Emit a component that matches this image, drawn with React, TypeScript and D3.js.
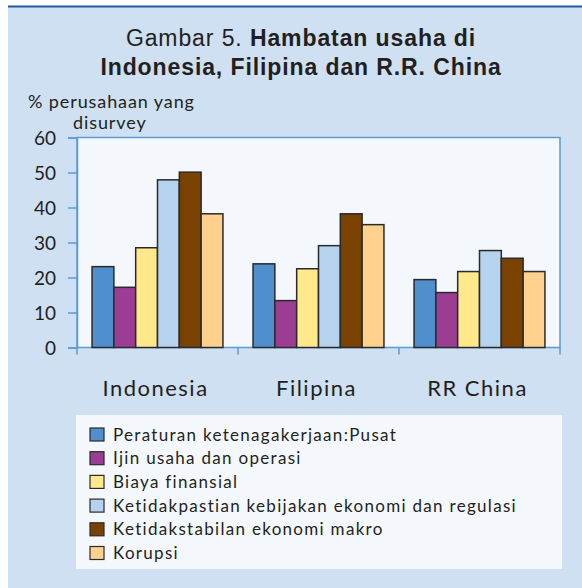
import { useRef, useEffect } from "react";
import * as d3 from "d3";

const countries = ["Indonesia", "Filipina", "RR China"];
const seriesNames = [
  "Peraturan ketenagakerjaan:Pusat",
  "Ijin usaha dan operasi",
  "Biaya finansial",
  "Ketidakpastian kebijakan ekonomi dan regulasi",
  "Ketidakstabilan ekonomi makro",
  "Korupsi",
];
const seriesColors = ["#4f8fcd", "#9b3d93", "#ffe98a", "#b5d2ee", "#7a4200", "#ffd18c"];
// values per series, in country order
const peraturan = [23.1, 23.9, 19.4];
const ijin = [17.2, 13.4, 15.7];
const biaya = [28.5, 22.5, 21.7];
const ketidakpastian = [47.9, 29.1, 27.7];
const ketidakstabilan = [50.1, 38.2, 25.5];
const korupsi = [38.2, 35.1, 21.7];
const seriesValues = [peraturan, ijin, biaya, ketidakpastian, ketidakstabilan, korupsi];
const yTicks = [0, 10, 20, 30, 40, 50, 60];

const labelFont = "Lato, 'Open Sans', sans-serif";
const titleFont = "'Liberation Sans', Arial, sans-serif";

export default function App() {
  const svgRef = useRef<SVGSVGElement>(null);
  const width = 582;
  const height = 588;

  useEffect(() => {
    if (!svgRef.current) return;
    const svg = d3.select(svgRef.current);
    svg.selectAll("*").remove();

    const ink = "#231f20";
    const axisBlue = "#5b9bd5";

    // panel background
    svg.append("rect").attr("width", width).attr("height", height).attr("fill", "#fff");
    svg.append("rect").attr("x", 8).attr("y", 7).attr("width", width - 8).attr("height", height - 7).attr("fill", "#cfe0f2");
    svg.append("line").attr("x1", 8).attr("x2", width).attr("y1", 6.5).attr("y2", 6.5).attr("stroke", "#1f5aa0").attr("stroke-width", 2);

    // title
    const t1 = svg.append("text").attr("x", 301).attr("y", 46).attr("text-anchor", "middle")
      .attr("font-family", titleFont).attr("font-size", 23).attr("letter-spacing", 0.9).attr("fill", ink);
    t1.append("tspan").text("Gambar 5. ");
    t1.append("tspan").attr("font-weight", "bold").text("Hambatan usaha di");
    svg.append("text").attr("x", 301).attr("y", 75).attr("text-anchor", "middle")
      .attr("font-family", titleFont).attr("font-size", 23).attr("letter-spacing", 0.9)
      .attr("font-weight", "bold").attr("fill", ink)
      .text("Indonesia, Filipina dan R.R. China");

    const margin = { top: 137.5, left: 77, right: 560, bottom: 347.5 };

    const x = d3.scaleBand<string>().domain(countries).range([margin.left, margin.right]);
    const xInner = d3.scaleBand<number>().domain(d3.range(seriesNames.length))
      .range([0, x.bandwidth()]).paddingInner(0).paddingOuter(0.69);
    const y = d3.scaleLinear().domain([0, 60]).range([margin.bottom, margin.top]);

    // plot area
    svg.append("rect").attr("x", margin.left).attr("y", margin.top)
      .attr("width", margin.right - margin.left).attr("height", margin.bottom - margin.top)
      .attr("fill", "#f4f8fd").attr("stroke", axisBlue).attr("stroke-width", 1.5);

    // y axis
    const yAxis = svg.append("g").attr("transform", `translate(${margin.left},0)`)
      .call(d3.axisLeft(y).tickValues(yTicks).tickSize(9).tickPadding(12));
    yAxis.select(".domain").attr("stroke", axisBlue).attr("stroke-width", 1.5);
    yAxis.selectAll(".tick line").attr("stroke", axisBlue).attr("stroke-width", 1.5);
    yAxis.selectAll(".tick text").attr("fill", ink).attr("font-family", labelFont)
      .attr("font-size", 19).attr("dy", "0.36em");

    // x axis: ticks at category boundaries
    const bounds = [...countries.map((c) => x(c) as number), margin.right];
    svg.append("g").selectAll("line").data(bounds).enter().append("line")
      .attr("x1", (d) => d).attr("x2", (d) => d)
      .attr("y1", margin.bottom).attr("y2", margin.bottom + 7)
      .attr("stroke", axisBlue).attr("stroke-width", 1.5);
    svg.append("g").selectAll("text").data(countries).enter().append("text")
      .attr("x", (d) => (x(d) as number) + x.bandwidth() / 2 - 2)
      .attr("y", 396).attr("text-anchor", "middle")
      .attr("font-family", labelFont).attr("font-size", 22).attr("letter-spacing", 1.5).attr("fill", ink)
      .text((d) => d);

    // axis title
    svg.append("text").attr("x", 28).attr("y", 108).attr("font-family", labelFont)
      .attr("font-size", 18).attr("letter-spacing", 0.9).attr("fill", ink).text("% perusahaan yang");
    svg.append("text").attr("x", 73).attr("y", 129).attr("font-family", labelFont)
      .attr("font-size", 18).attr("letter-spacing", 0.9).attr("fill", ink).text("disurvey");

    // bars
    const groups = svg.append("g").selectAll("g").data(countries).enter().append("g")
      .attr("transform", (d) => `translate(${x(d)},0)`);
    groups.selectAll("rect")
      .data((_, ci) => seriesValues.map((vals, si) => ({ si, v: vals[ci] })))
      .enter().append("rect")
      .attr("x", (d) => xInner(d.si) as number)
      .attr("y", (d) => y(d.v))
      .attr("width", xInner.bandwidth())
      .attr("height", (d) => y(0) - y(d.v))
      .attr("fill", (d) => seriesColors[d.si])
      .attr("stroke", "#2a2a2a").attr("stroke-width", 1.5);

    // legend
    svg.append("rect").attr("x", 76).attr("y", 415).attr("width", 486).attr("height", 154).attr("fill", "#f4f8fd");
    const leg = svg.append("g").selectAll("g").data(seriesNames).enter().append("g")
      .attr("transform", (_, i) => `translate(90,${428 + i * 23.7})`);
    leg.append("rect").attr("width", 14).attr("height", 13)
      .attr("fill", (_, i) => seriesColors[i]).attr("stroke", "#2a2a2a").attr("stroke-width", 1.2);
    leg.append("text").attr("x", 23).attr("y", 12.5).attr("font-family", labelFont)
      .attr("font-size", 17).attr("letter-spacing", 1.3).attr("fill", ink).text((d) => d);
  }, []);

  return (
    <svg
      ref={svgRef}
      width={width}
      height={height}
      style={{ position: "absolute", left: 0, top: 0, display: "block" }}
      role="img"
      aria-label="Hambatan usaha di Indonesia, Filipina dan R.R. China"
    />
  );
}
